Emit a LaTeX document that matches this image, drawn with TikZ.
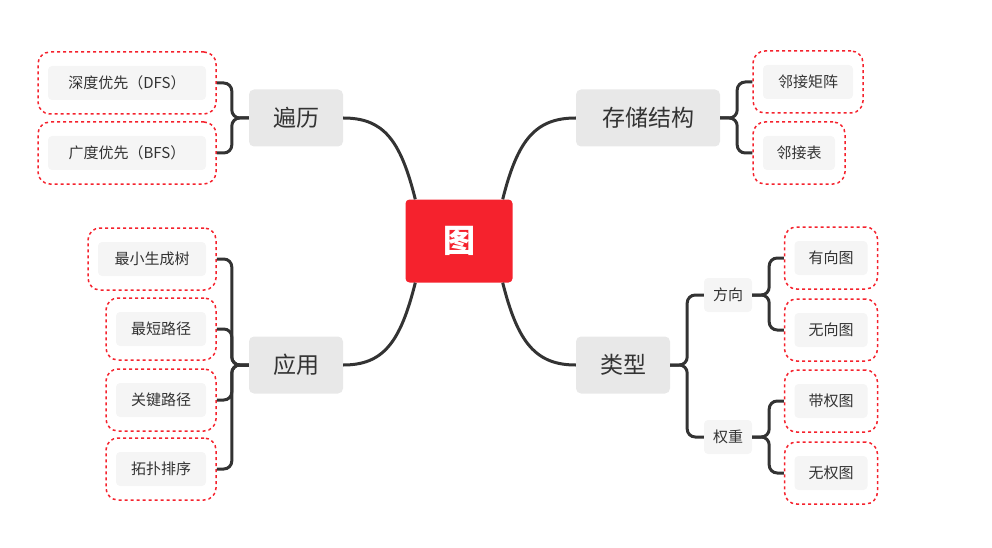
\documentclass[tikz,border=0pt]{standalone}
\usepackage{fontspec}
\setmainfont{Noto Sans CJK SC}
\usetikzlibrary{calc}
\definecolor{linkc}{HTML}{333333}
\definecolor{boxc}{HTML}{E8E8E8}
\definecolor{leafc}{HTML}{F5F5F5}
\definecolor{redc}{HTML}{F5222D}
\tikzset{
    link/.style={draw=linkc, line width=3pt, rounded corners=8pt},
    hub/.style={fill=redc, rounded corners=4pt, minimum width=107pt, minimum height=83pt,
        text=white, font=\fontsize{32}{36}\selectfont\bfseries},
    topic/.style={fill=boxc, rounded corners=5pt, minimum height=57pt, font=\fontsize{23}{26}\selectfont, text=linkc},
    sub/.style={fill=leafc, rounded corners=4pt, minimum width=48pt, minimum height=34pt, font=\fontsize{15}{18}\selectfont, text=linkc},
    leaf/.style={draw=redc, dashed, line width=1.5pt, rounded corners=12pt, minimum height=62pt,
        font=\fontsize{15}{18}\selectfont, text=linkc,
        path picture={\fill[leafc, rounded corners=4pt]
            ([shift={(10pt,14pt)}]path picture bounding box.south west) rectangle
            ([shift={(-10pt,-14pt)}]path picture bounding box.north east);}}
}
\begin{document}
\begin{tikzpicture}[x=1pt, y=-1pt]
\useasboundingbox (0,0) rectangle (992,548);
% centre and main topics
\node[hub] (g) at (459,241) {图};
\node[topic, minimum width=94pt] (trav) at (296,118) {遍历};
\node[topic, minimum width=144pt] (store) at (648,118) {存储结构};
\node[topic, minimum width=94pt] (app) at (296,365) {应用};
\node[topic, minimum width=94pt] (kind) at (623,365) {类型};
% leaves
\node[leaf, minimum width=178pt] (dfs) at (127,83) {深度优先（DFS）};
\node[leaf, minimum width=178pt] (bfs) at (127,153) {广度优先（BFS）};
\node[leaf, minimum width=110pt] (mat) at (808,82) {邻接矩阵};
\node[leaf, minimum width=92pt] (lst) at (799,153) {邻接表};
\node[leaf, minimum width=128pt] (mst) at (152,259) {最小生成树};
\node[leaf, minimum width=110pt] (sp) at (161,329) {最短路径};
\node[leaf, minimum width=110pt] (cp) at (161,400) {关键路径};
\node[leaf, minimum width=110pt] (topo) at (161,469) {拓扑排序};
\node[sub] (dir) at (728,295) {方向};
\node[sub] (wt) at (728,437) {权重};
\node[leaf, minimum width=93pt] (dg) at (831,258) {有向图};
\node[leaf, minimum width=93pt] (ug) at (831,330) {无向图};
\node[leaf, minimum width=93pt] (wg) at (831,401) {带权图};
\node[leaf, minimum width=93pt] (nwg) at (831,473) {无权图};
% centre links
\draw[link] ([xshift=10pt]g.north west) .. controls ++(-15,-60) and ++(40,0) .. (trav.east);
\draw[link] ([xshift=-10pt]g.north east) .. controls ++(15,-60) and ++(-40,0) .. (store.west);
\draw[link] ([xshift=10pt]g.south west) .. controls ++(-15,60) and ++(40,0) .. (app.west -| app.east);
\draw[link] ([xshift=-10pt]g.south east) .. controls ++(15,60) and ++(-40,0) .. (kind.west);
% brackets
\foreach \n in {dfs,bfs}
    \draw[link] (trav.west) -- ++(-17,0) |- (\n.east);
\foreach \n in {mat,lst}
    \draw[link] (store.east) -- ++(17,0) |- (\n.west);
\foreach \n in {mst,sp,cp,topo}
    \draw[link] (app.west) -- ++(-17,0) |- (\n.east);
\foreach \n in {dir,wt}
    \draw[link] (kind.east) -- ++(17,0) |- (\n.west);
\foreach \n in {dg,ug}
    \draw[link] (dir.east) -- ++(17,0) |- (\n.west);
\foreach \n in {wg,nwg}
    \draw[link] (wt.east) -- ++(17,0) |- (\n.west);
\end{tikzpicture}
\end{document}
